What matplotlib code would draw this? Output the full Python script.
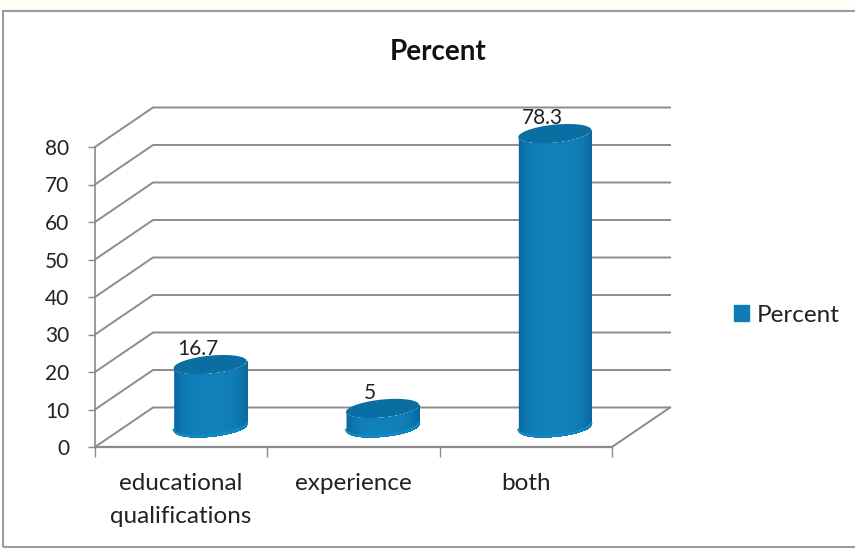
import matplotlib
matplotlib.use("Agg")
import matplotlib.pyplot as plt
from matplotlib.patches import Patch, Rectangle
import numpy as np

categories = ["educational\nqualifications", "experience", "both"]
values = [16.7, 5, 78.3]
value_labels = ["16.7", "5", "78.3"]
yticks = [0, 10, 20, 30, 40, 50, 60, 70, 80]
series_name = "Percent"

W, H = 855, 549
plt.rcParams['font.family'] = ['Lato', 'DejaVu Sans']

fig = plt.figure(figsize=(W / 100, H / 100), dpi=100)

# front plane of the fake 3d box, in pixels
left, right, bottom, top = 95, 612, 447, 147
ax = fig.add_axes([left / W, 1 - bottom / H, (right - left) / W, (bottom - top) / H])
ax.set_xlim(0, 3)
ax.set_ylim(0, 80)
ax.patch.set_alpha(0)

px_x = 3 / (right - left)
px_y = 80 / (bottom - top)
depth_x = 58 * px_x
depth_y = 39.5 * px_y

grid_col = "#8f8b8b"
ax_col = "#8a8a8a"

# walls
for v in yticks:
    ax.plot([0, depth_x, 3 + depth_x], [v, v + depth_y, v + depth_y], color=grid_col, lw=1.4, clip_on=False, zorder=1)
ax.plot([0, 3], [0, 0], color=ax_col, lw=1.6, clip_on=False, zorder=1)
ax.plot([3, 3 + depth_x], [0, depth_y], color=ax_col, lw=1.4, clip_on=False, zorder=1)

# cylinders
half_w = 36.5 * px_x
semi_h = 9 * px_y
skew = 3.5 * px_y
base = 0.5 * depth_y
dark = np.array([0x0a, 0x66, 0x9c]) / 255
light = np.array([0x10, 0x80, 0xba]) / 255
centers = [i + 0.5 + depth_x / 2 for i in range(len(values))]

for cx, val in zip(centers, values):
    us = np.linspace(-1, 1, 61)
    low = base + skew * us - semi_h * np.sqrt(1 - us ** 2)
    # painted left to right, each strip running to the right end, so no seams show
    for j in range(60):
        u = (us[j] + us[j + 1]) / 2
        col = dark + (light - dark) * (1 - u ** 4)
        ax.fill_between(cx + half_w * us[j:], low[j:], low[j:] + val, color=col, lw=0, clip_on=False, zorder=3)
    ax.plot(cx + half_w * us, low + 0.25, color="#0f8cc8", lw=1.5, clip_on=False, zorder=4)
    t = np.linspace(0, 2 * np.pi, 100)
    ax.fill(cx + half_w * np.cos(t), base + val + semi_h * np.sin(t) + skew * np.cos(t),
            color="#0b6ea3", lw=0, clip_on=False, zorder=5)

for cx, val, lab in zip(centers, values, value_labels):
    ax.annotate(lab, (cx, base + val), xytext=(-9, 11), textcoords="offset points", ha="center", va="center",
                fontsize=15, color="#222222", zorder=6, annotation_clip=False)

# axes and ticks
for name, sp in ax.spines.items():
    sp.set_visible(name == "left")
ax.spines["left"].set_color(ax_col)
ax.spines["left"].set_linewidth(1.2)
ax.set_yticks(yticks)
ax.set_xticks([0, 1, 2, 3])
ax.set_xticklabels([])
ax.set_xticks([0.5, 1.5, 2.5], categories, minor=True, linespacing=1.7)
ax.tick_params(axis="y", length=5, width=1, color=ax_col, pad=13.5, labelsize=15, labelcolor="#222222")
ax.tick_params(axis="x", which="major", length=7, width=1, color=ax_col, direction="out")
ax.tick_params(axis="x", which="minor", length=0, pad=18.5, labelsize=17.5, labelcolor="#222222")

fig.text(438 / W, 1 - 51.5 / H, series_name, ha="center", va="center", fontsize=20, fontweight="bold", color="#111111")

fig.legend(handles=[Patch(color="#0f7db5", label=series_name)], loc="center left",
           bbox_to_anchor=(734 / W, 1 - 315 / H), frameon=False, fontsize=17.5,
           handlelength=0.62, handleheight=0.62, handletextpad=0.3, borderpad=0, borderaxespad=0,
           labelcolor="#222222")

# scanned page background and chart frame
fig.patch.set_facecolor("white")
fig.add_artist(Rectangle((0, 1 - 11 / H), 1, 11 / H, transform=fig.transFigure, color="#fffdf6", lw=0, zorder=-1))
fig.add_artist(Rectangle((3 / W, 1 - 547 / H), 1, 536 / H, transform=fig.transFigure, fill=False,
                         edgecolor="#9c9c9c", lw=1.5, zorder=-1))

fig.savefig("out.png", dpi=100)
